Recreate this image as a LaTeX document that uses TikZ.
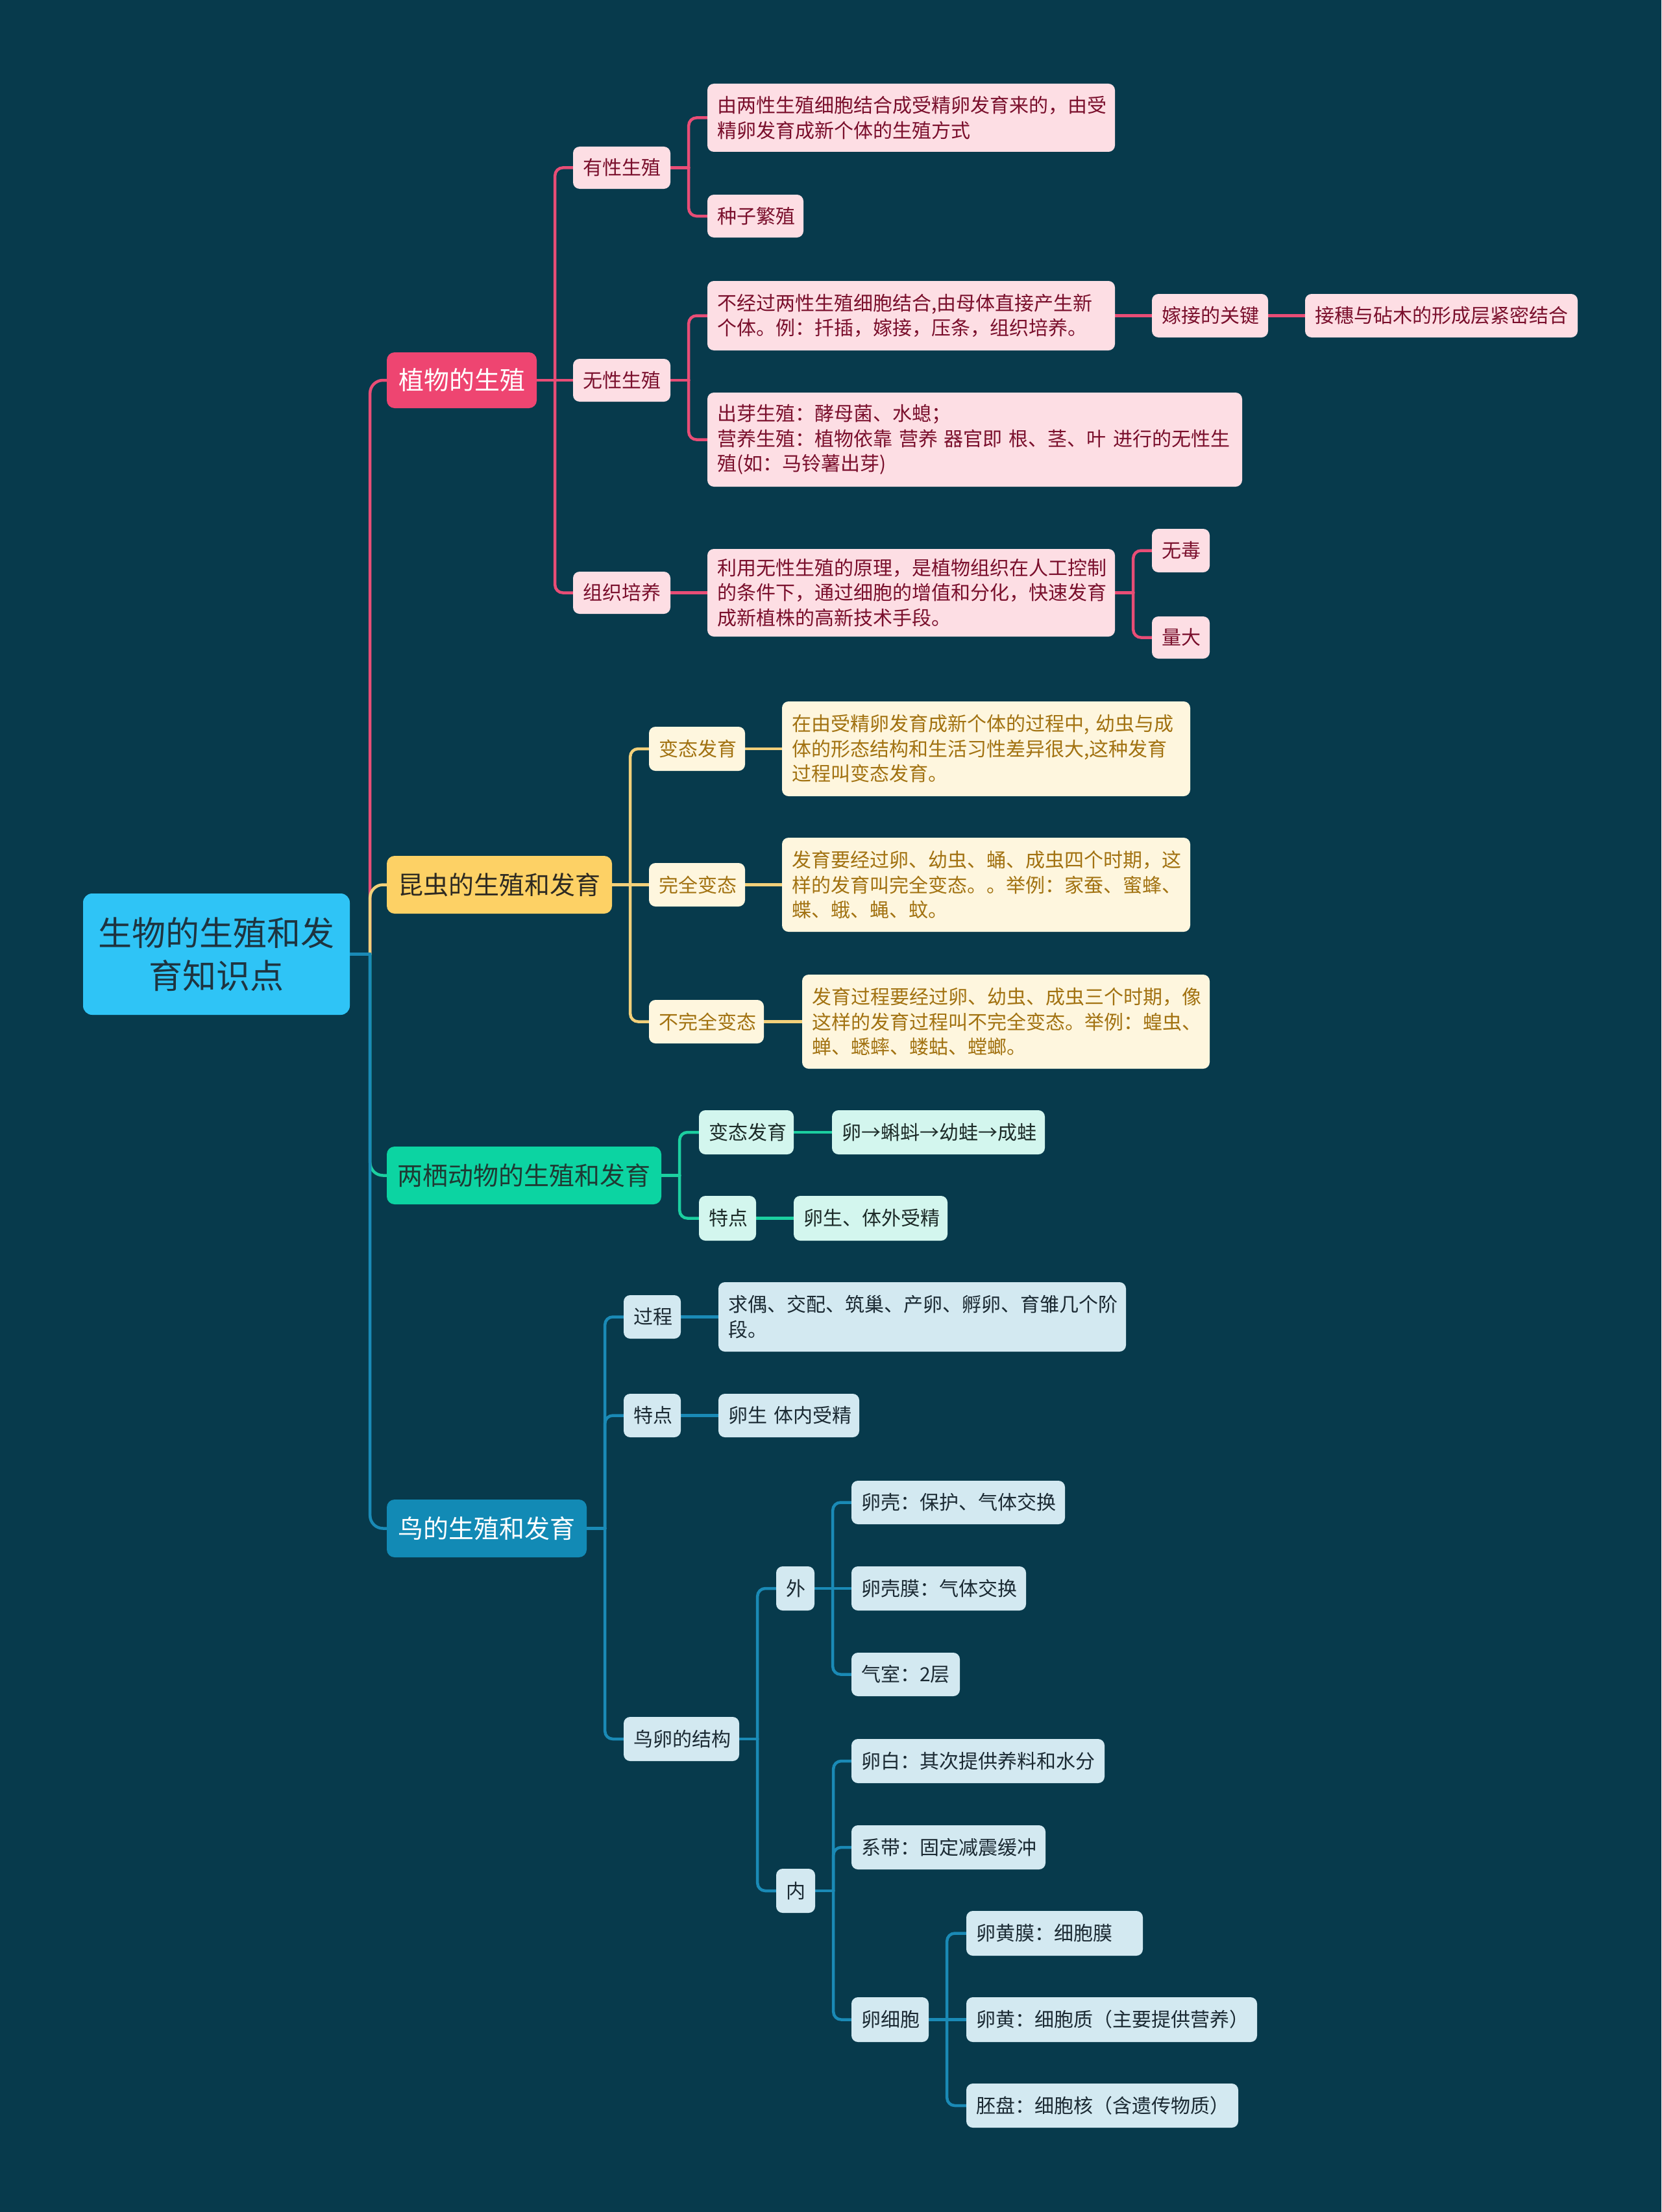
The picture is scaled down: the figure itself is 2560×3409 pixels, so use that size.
\documentclass[tikz,border=0pt]{standalone}
\usepackage{fontspec}
\setmainfont{Noto Sans CJK SC}
\definecolor{bgc}{HTML}{073A4C}
\definecolor{redln}{HTML}{E84D76}
\definecolor{redbx}{HTML}{EE4571}
\definecolor{pinkf}{HTML}{FDDEE4}
\definecolor{pinkt}{HTML}{7A0F2C}
\definecolor{yelln}{HTML}{F2D07A}
\definecolor{yelbx}{HTML}{FDD165}
\definecolor{yelt}{HTML}{2E2A22}
\definecolor{creamf}{HTML}{FEF6DE}
\definecolor{creamt}{HTML}{A27211}
\definecolor{grnln}{HTML}{1CCFA0}
\definecolor{grnbx}{HTML}{0CD4A2}
\definecolor{grnt}{HTML}{1F3A33}
\definecolor{mintf}{HTML}{D3F6EE}
\definecolor{mintt}{HTML}{1D2B28}
\definecolor{bluln}{HTML}{1A8AB6}
\definecolor{blubx}{HTML}{128AB5}
\definecolor{lbluef}{HTML}{D3E9F1}
\definecolor{lbluet}{HTML}{1B2A33}
\definecolor{rootf}{HTML}{2FC4F6}
\definecolor{roott}{HTML}{1E3440}
\pgfdeclarelayer{back}
\pgfdeclarelayer{lines}
\pgfsetlayers{back,lines,main}
\newcommand\mkbox[7]{%
  \pgfmathsetmacro\mybw{#4-#2}%
  \pgfmathsetmacro\mybh{#5-#3}%
  \pgfmathsetmacro\mytw{#4-#2-30}%
  \pgfmathsetmacro\mycx{(#2+#4)/2}%
  \pgfmathsetmacro\mycy{(#3+#5)/2}%
  \node[#6, minimum width=\mybw pt, minimum height=\mybh pt, text width=\mytw pt] (#1) at (\mycx,\mycy) {#7};}
\newcommand\mkconn[4][28]{%
  \begin{pgfonlayer}{lines}
  \draw[line cap=round, line width=4.5pt, #2] (#3.east) -- ++(#1,0) coordinate (tmpj);
  \draw[line cap=round, line width=4.5pt, rounded corners=12pt, #2] (tmpj) |- (#4.west);
  \end{pgfonlayer}}
\newcommand\mkline[3]{%
  \begin{pgfonlayer}{lines}
  \draw[line cap=round, line width=4.5pt, #1] (#2.east) -- (#3.west);
  \end{pgfonlayer}}
\begin{document}
\begin{tikzpicture}[x=1pt,y=-1pt,
  nbase/.style={rectangle, rounded corners=10pt, inner xsep=15pt, inner ysep=0pt, align=left, font=\fontsize{30pt}{38.5pt}\selectfont},
  pinkbox/.style={nbase, fill=pinkf, text=pinkt},
  creambox/.style={nbase, fill=creamf, text=creamt},
  mintbox/.style={nbase, fill=mintf, text=mintt},
  lbluebox/.style={nbase, fill=lbluef, text=lbluet},
  lone/.style={rectangle, rounded corners=12pt, inner xsep=15pt, inner ysep=0pt, align=center, font=\fontsize{39pt}{48pt}\selectfont},
  rootbox/.style={rectangle, rounded corners=14pt, inner xsep=15pt, inner ysep=0pt, align=center, fill=rootf, text=roott, font=\fontsize{52pt}{66pt}\selectfont},
  redl/.style={draw=redln}, yell/.style={draw=yelln}, grnl/.style={draw=grnln}, blul/.style={draw=bluln},
  topl/.style={rounded corners=20pt}
]
\useasboundingbox (0,0) rectangle (2560,3409);
\begin{pgfonlayer}{back}
\fill[bgc] (0,0) rectangle (2560,3409);
\end{pgfonlayer}

% root and level 1
\mkbox{root}{128}{1377}{539}{1564}{rootbox}{\mbox{生物的生殖和发}\\\mbox{育知识点}}
\mkbox{zw}{596}{543}{827}{629}{lone, fill=redbx, text=white}{\mbox{植物的生殖}}
\mkbox{kc}{596}{1319}{943}{1408}{lone, fill=yelbx, text=yelt}{\mbox{昆虫的生殖和发育}}
\mkbox{lq}{596}{1767}{1019}{1856}{lone, fill=grnbx, text=grnt}{\mbox{两栖动物的生殖和发育}}
\mkbox{nd}{596}{2311}{904}{2400}{lone, fill=blubx, text=white}{\mbox{鸟的生殖和发育}}

% plants
\mkbox{yx}{883}{226}{1033}{291}{pinkbox}{\mbox{有性生殖}}
\mkbox{wx}{883}{553}{1033}{619}{pinkbox}{\mbox{无性生殖}}
\mkbox{zp}{883}{881}{1033}{946}{pinkbox}{\mbox{组织培养}}
\mkbox{yx1}{1090}{129}{1718}{234}{pinkbox}{\mbox{由两性生殖细胞结合成受精卵发育来的，由受}\\\mbox{精卵发育成新个体的生殖方式}}
\mkbox{yx2}{1090}{300}{1238}{366}{pinkbox}{\mbox{种子繁殖}}
\mkbox{wx1}{1090}{433}{1718}{540}{pinkbox}{\mbox{不经过两性生殖细胞结合,由母体直接产生新}\\\mbox{个体。例：扦插，嫁接，压条，组织培养。}}
\mkbox{wx2}{1090}{605}{1914}{750}{pinkbox}{\mbox{出芽生殖：酵母菌、水螅；}\\\mbox{营养生殖：植物依靠 营养 器官即 根、茎、叶 进行的无性生}\\\mbox{殖(如：马铃薯出芽)}}
\mkbox{jj}{1775}{453}{1954}{520}{pinkbox}{\mbox{嫁接的关键}}
\mkbox{js}{2011}{453}{2431}{520}{pinkbox}{\mbox{接穗与砧木的形成层紧密结合}}
\mkbox{zp1}{1090}{846}{1718}{981}{pinkbox}{\mbox{利用无性生殖的原理，是植物组织在人工控制}\\\mbox{的条件下，通过细胞的增值和分化，快速发育}\\\mbox{成新植株的高新技术手段。}}
\mkbox{wd}{1775}{815}{1864}{882}{pinkbox}{\mbox{无毒}}
\mkbox{ld}{1775}{950}{1864}{1015}{pinkbox}{\mbox{量大}}

% insects
\mkbox{bt}{1000}{1120}{1148}{1188}{creambox}{\mbox{变态发育}}
\mkbox{wq}{1000}{1330}{1148}{1397}{creambox}{\mbox{完全变态}}
\mkbox{bw}{1000}{1541}{1177}{1608}{creambox}{\mbox{不完全变态}}
\mkbox{bt1}{1205}{1081}{1834}{1227}{creambox}{\mbox{在由受精卵发育成新个体的过程中, 幼虫与成}\\\mbox{体的形态结构和生活习性差异很大,这种发育}\\\mbox{过程叫变态发育。}}
\mkbox{wq1}{1205}{1291}{1834}{1436}{creambox}{\mbox{发育要经过卵、幼虫、蛹、成虫四个时期，这}\\\mbox{样的发育叫完全变态。。举例：家蚕、蜜蜂、}\\\mbox{蝶、蛾、蝇、蚊。}}
\mkbox{bw1}{1236}{1502}{1864}{1647}{creambox}{\mbox{发育过程要经过卵、幼虫、成虫三个时期，像}\\\mbox{这样的发育过程叫不完全变态。举例：蝗虫、}\\\mbox{蝉、蟋蟀、蝼蛄、螳螂。}}

% amphibians
\mkbox{lbt}{1077}{1711}{1223}{1779}{mintbox}{\mbox{变态发育}}
\mkbox{lbt1}{1282}{1711}{1610}{1779}{mintbox}{\mbox{卵→蝌蚪→幼蛙→成蛙}}
\mkbox{ltd}{1077}{1843}{1165}{1912}{mintbox}{\mbox{特点}}
\mkbox{ltd1}{1223}{1843}{1460}{1912}{mintbox}{\mbox{卵生、体外受精}}

% birds
\mkbox{ngc}{961}{1996}{1049}{2063}{lbluebox}{\mbox{过程}}
\mkbox{ngc1}{1107}{1976}{1735}{2083}{lbluebox}{\mbox{求偶、交配、筑巢、产卵、孵卵、育雏几个阶}\\\mbox{段。}}
\mkbox{ntd}{961}{2148}{1049}{2215}{lbluebox}{\mbox{特点}}
\mkbox{ntd1}{1107}{2148}{1324}{2215}{lbluebox}{\mbox{卵生 体内受精}}
\mkbox{njg}{961}{2646}{1139}{2714}{lbluebox}{\mbox{鸟卵的结构}}
\mkbox{nw}{1196}{2414}{1255}{2482}{lbluebox}{\mbox{外}}
\mkbox{nn}{1196}{2880}{1256}{2948}{lbluebox}{\mbox{内}}
\mkbox{w1}{1312}{2282}{1641}{2349}{lbluebox}{\mbox{卵壳：保护、气体交换}}
\mkbox{w2}{1312}{2414}{1581}{2482}{lbluebox}{\mbox{卵壳膜：气体交换}}
\mkbox{w3}{1312}{2547}{1479}{2614}{lbluebox}{\mbox{气室：2层}}
\mkbox{n1}{1312}{2680}{1702}{2748}{lbluebox}{\mbox{卵白：其次提供养料和水分}}
\mkbox{n2}{1312}{2813}{1611}{2881}{lbluebox}{\mbox{系带：固定减震缓冲}}
\mkbox{n3}{1312}{3078}{1431}{3147}{lbluebox}{\mbox{卵细胞}}
\mkbox{c1}{1489}{2945}{1761}{3014}{lbluebox}{\mbox{卵黄膜：细胞膜}}
\mkbox{c2}{1489}{3078}{1937}{3147}{lbluebox}{\mbox{卵黄：细胞质（主要提供营养）}}
\mkbox{c3}{1489}{3211}{1908}{3279}{lbluebox}{\mbox{胚盘：细胞核（含遗传物质）}}

% connectors: red
\mkconn[31]{redl, topl}{root}{zw}
\mkconn{redl}{zw}{yx}
\mkline{redl}{zw}{wx}
\mkconn{redl}{zw}{zp}
\mkconn{redl}{yx}{yx1}
\mkconn{redl}{yx}{yx2}
\mkconn{redl}{wx}{wx1}
\mkconn{redl}{wx}{wx2}
\mkline{redl}{wx1}{jj}
\mkline{redl}{jj}{js}
\mkline{redl}{zp}{zp1}
\mkconn{redl}{zp1}{wd}
\mkconn{redl}{zp1}{ld}
% yellow
\mkconn[31]{yell, topl}{root}{kc}
\mkconn{yell}{kc}{bt}
\mkline{yell}{kc}{wq}
\mkconn{yell}{kc}{bw}
\mkline{yell}{bt}{bt1}
\mkline{yell}{wq}{wq1}
\mkline{yell}{bw}{bw1}
% green
\mkconn[31]{grnl, topl}{root}{lq}
\mkconn{grnl}{lq}{lbt}
\mkconn{grnl}{lq}{ltd}
\mkline{grnl}{lbt}{lbt1}
\mkline{grnl}{ltd}{ltd1}
% blue
\mkconn[31]{blul, topl}{root}{nd}
\mkconn{blul}{nd}{ngc}
\mkconn{blul}{nd}{ntd}
\mkconn{blul}{nd}{njg}
\mkline{blul}{ngc}{ngc1}
\mkline{blul}{ntd}{ntd1}
\mkconn{blul}{njg}{nw}
\mkconn{blul}{njg}{nn}
\mkconn{blul}{nw}{w1}
\mkline{blul}{nw}{w2}
\mkconn{blul}{nw}{w3}
\mkconn{blul}{nn}{n1}
\mkconn{blul}{nn}{n2}
\mkconn{blul}{nn}{n3}
\mkconn{blul}{n3}{c1}
\mkline{blul}{n3}{c2}
\mkconn{blul}{n3}{c3}
\end{tikzpicture}
\end{document}
